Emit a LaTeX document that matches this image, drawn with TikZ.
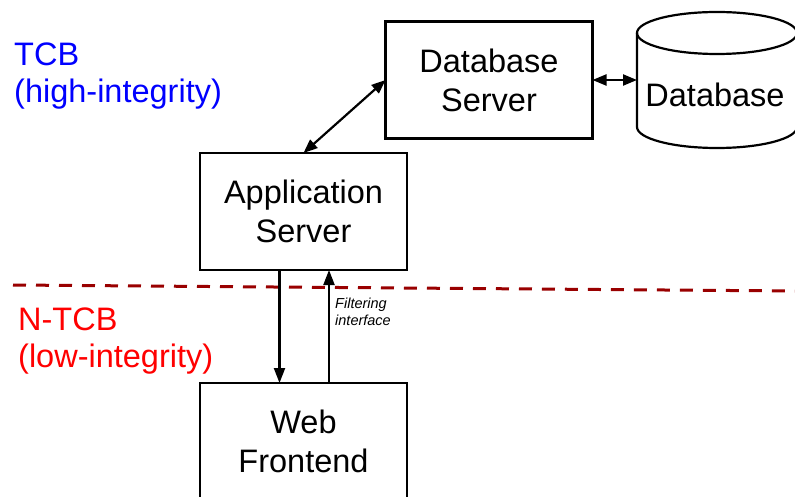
\documentclass[tikz,border=0pt]{standalone}
\usepackage{fontspec}
\setmainfont{Liberation Sans}
\usetikzlibrary{arrows.meta,calc}

\definecolor{tcbblue}{RGB}{0,0,255}
\definecolor{ntcbred}{RGB}{255,0,0}
\definecolor{cutred}{RGB}{153,0,0}

\begin{document}
\begin{tikzpicture}[x=1pt,y=-1pt,
  box/.style={draw, line width=2.2pt, minimum width=207pt, minimum height=117pt,
    inner sep=0pt, outer sep=0pt, align=center,
    font=\fontsize{32.5}{39}\selectfont},
  shapeline/.style={line width=2.2pt},
  link/.style={line width=2.2pt, -{Triangle[length=15pt,width=11pt]}},
  both/.style={line width=2.2pt,
    {Triangle[length=14pt,width=11pt]}-{Triangle[length=14pt,width=11pt]}},
  zone/.style={anchor=base west, align=left, inner sep=0pt,
    font=\fontsize{32.5}{37}\selectfont},
  boundary/.style={cutred, line width=3pt, dash pattern=on 13pt off 10pt},
  ]
\useasboundingbox (0,0) rectangle (795,497);

% trust boundary
\coordinate (cutL) at (13,285);
\coordinate (cutR) at (795,291);
\draw[boundary] (cutL) -- (cutR);

% zone labels (anchored on the baseline of their last line)
\node[zone, text=tcbblue] (tcb) at (14,103) {TCB\\(high-integrity)};
\node[zone, text=ntcbred] (ntcb) at (18,367) {N-TCB\\(low-integrity)};

% components
\node[box] (dbs) at (489,80) {Database\\Server};
\node[box] (app) at (303.5,211.5) {Application\\Server};
\begin{scope}
  \clip (0,0) rectangle (795,497);
  \node[box] (web) at (303.5,441.5) {Web\\Frontend};
  % database cylinder
  \draw[shapeline] (637,33) -- (637,127)
    arc[start angle=180, end angle=360, x radius=80pt, y radius=21pt] -- (797,33);
  \draw[shapeline] (717,33) ellipse[x radius=80pt, y radius=21pt];
\end{scope}
\node[minimum width=160pt, minimum height=94pt, inner sep=0pt, outer sep=0pt] (db) at (717,80) {};
\node[font=\fontsize{32.5}{39}\selectfont, anchor=base, inner sep=0pt] (dbtext) at (715,107) {Database};

% connections
\draw[both] (app.north) -- (dbs.west);
\draw[both] (dbs.east) -- (db.west);
\draw[link] ($(app.south)+(-24,0)$) -- ($(web.north)+(-24,0)$);
\draw[link] ($(web.north)+(25.5,0)$) -- ($(app.south)+(25.5,0)$);

\node[anchor=base west, align=left, inner sep=0pt,
  font=\fontsize{14.5}{17}\selectfont\itshape] (filt) at (335,325) {Filtering\\interface};
\end{tikzpicture}
\end{document}
